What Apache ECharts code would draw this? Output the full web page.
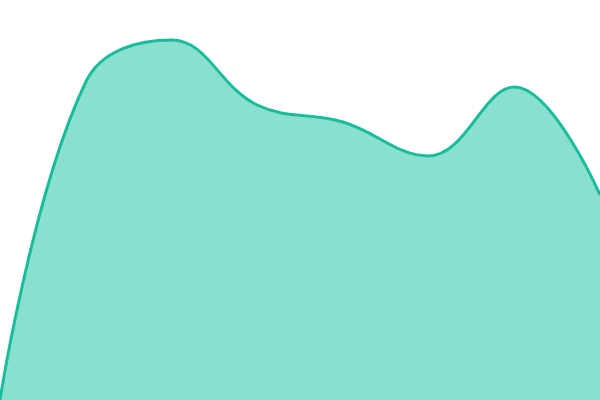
<!DOCTYPE html>
<html>
<head>
<meta charset="utf-8">
<script src="https://cdn.jsdelivr.net/npm/echarts@6/dist/echarts.min.js"></script>
<style>html,body{margin:0;padding:0;background:#fff}#c{width:600px;height:400px}</style>
</head>
<body>
<div id="c"></div>
<script>
const categories = ['1','2','3','4','5','6','7','8'];
const values = [0, 318, 360, 295, 278, 244, 313, 205];
const chart = echarts.init(document.getElementById('c'));
chart.setOption({
  animation: false,
  grid: {left: 0, right: 0, top: 0, bottom: 0},
  xAxis: {type: 'category', data: categories, boundaryGap: false, show: false},
  yAxis: {type: 'value', min: 0, max: 400, show: false},
  series: [{
    type: 'line',
    data: values,
    smooth: 0.4,
    symbol: 'none',
    lineStyle: {color: '#1abc9c', width: 3},
    areaStyle: {color: '#89e0cf', opacity: 1}
  }]
});
</script>
</body>
</html>
